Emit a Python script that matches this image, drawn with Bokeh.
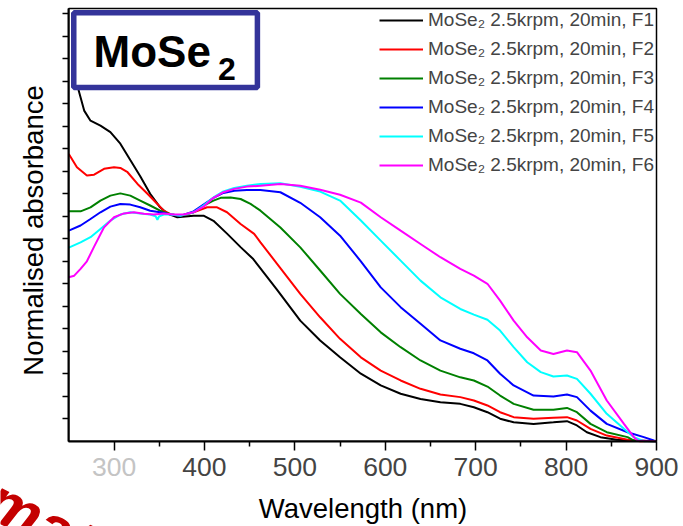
from bokeh.plotting import figure
from bokeh.models import Range1d, FixedTicker, Label, BoxAnnotation, LinearAxis
from bokeh.embed import file_html
from bokeh.resources import INLINE

FONT = "Liberation Sans"

# Wavelength (nm) and normalised absorbance for each fraction
f1_nm = [255, 261, 267, 274, 285, 296, 307, 318, 329, 340, 351, 359, 370, 388, 399, 410, 425, 440, 454,
         480, 506, 528, 550, 573, 595, 617, 639, 661, 683, 698, 713, 727, 742, 764, 786, 801, 812, 823, 838,
         856, 875, 897, 900]
f1_abs = [1.8, 1.558, 1.47, 1.425, 1.403, 1.374, 1.323, 1.25, 1.178, 1.10, 1.04, 1.012, 0.996, 1.003,
          1.003, 0.98, 0.923, 0.863, 0.81, 0.675, 0.536, 0.448, 0.373, 0.300, 0.248, 0.211, 0.188, 0.173,
          0.166, 0.151, 0.129, 0.100, 0.084, 0.077, 0.084, 0.089, 0.070, 0.040, 0.018, 0.006, 0.003, 0.0, 0.0]

f2_nm = [250, 259, 270, 278, 289, 300, 307, 315, 326, 337, 348, 355, 363, 374, 388, 403, 414, 425, 440, 455,
         462, 484, 506, 528, 550, 573, 595, 617, 639, 661, 683, 698, 713, 727, 742, 764, 786, 801, 812, 827,
         845, 868, 882, 900]
f2_abs = [1.277, 1.218, 1.181, 1.185, 1.211, 1.218, 1.215, 1.196, 1.144, 1.10, 1.055, 1.025, 1.008, 1.003,
          1.018, 1.04, 1.04, 1.018, 0.966, 0.922, 0.884, 0.77, 0.655, 0.551, 0.455, 0.373, 0.314, 0.270,
          0.233, 0.208, 0.196, 0.181, 0.159, 0.129, 0.107, 0.0996, 0.104, 0.107, 0.092, 0.055, 0.025, 0.006,
          0.0, 0.0]

f3_nm = [250, 263, 274, 285, 296, 307, 318, 329, 340, 351, 363, 374, 388, 399, 410, 418, 429, 440, 451, 462,
         484, 506, 528, 550, 573, 595, 617, 639, 661, 683, 698, 713, 727, 742, 764, 786, 801, 812, 827, 845,
         868, 875, 900]
f3_abs = [1.022, 1.022, 1.04, 1.07, 1.092, 1.102, 1.092, 1.07, 1.048, 1.025, 1.008, 1.002, 1.018, 1.048,
          1.07, 1.082, 1.084, 1.077, 1.055, 1.025, 0.95, 0.862, 0.759, 0.655, 0.566, 0.484, 0.418, 0.359,
          0.314, 0.284, 0.270, 0.243, 0.203, 0.166, 0.140, 0.140, 0.148, 0.129, 0.077, 0.040, 0.018, 0.003,
          0.0]

f4_nm = [250, 263, 274, 285, 296, 307, 318, 329, 340, 351, 363, 374, 388, 399, 410, 421, 433, 447, 462, 484,
         506, 528, 550, 573, 595, 617, 639, 661, 683, 698, 713, 727, 742, 764, 786, 801, 812, 827, 845, 868,
         886, 897, 900]
f4_abs = [0.936, 0.959, 0.988, 1.018, 1.043, 1.055, 1.052, 1.04, 1.025, 1.018, 1.008, 1.003, 1.022, 1.052,
          1.082, 1.104, 1.114, 1.117, 1.117, 1.107, 1.06, 0.996, 0.914, 0.80, 0.684, 0.596, 0.522, 0.448,
          0.411, 0.391, 0.359, 0.300, 0.248, 0.203, 0.199, 0.208, 0.196, 0.136, 0.077, 0.040, 0.018, 0.003,
          0.0]

f5_nm = [250, 263, 274, 285, 296, 307, 318, 329, 340, 346, 348, 350, 355, 363, 374, 388, 399, 410, 421, 433,
         447, 462, 484, 506, 528, 550, 573, 595, 617, 639, 661, 683, 698, 713, 727, 742, 757, 772, 786, 801,
         812, 827, 845, 864, 875, 886, 900]
f5_abs = [0.861, 0.884, 0.907, 0.944, 0.981, 1.008, 1.018, 1.013, 1.008, 1.0, 0.985, 1.0, 1.008, 1.008,
          1.003, 1.018, 1.048, 1.084, 1.111, 1.126, 1.136, 1.144, 1.147, 1.131, 1.110, 1.070, 0.981, 0.892,
          0.803, 0.714, 0.640, 0.588, 0.563, 0.540, 0.492, 0.418, 0.351, 0.307, 0.288, 0.292, 0.277, 0.211,
          0.122, 0.055, 0.018, 0.0, 0.0]

f6_nm = [250, 256, 263, 270, 278, 289, 300, 311, 322, 333, 344, 355, 366, 377, 388, 399, 410, 421, 433, 447,
         462, 484, 506, 528, 550, 573, 595, 617, 639, 661, 683, 698, 713, 727, 742, 757, 772, 786, 801, 812,
         827, 845, 864, 875, 879, 900]
f6_abs = [0.729, 0.736, 0.766, 0.80, 0.865, 0.951, 0.996, 1.013, 1.018, 1.011, 1.008, 1.013, 1.008, 1.008,
          1.018, 1.043, 1.082, 1.107, 1.122, 1.132, 1.136, 1.144, 1.136, 1.118, 1.096, 1.061, 0.996, 0.936,
          0.877, 0.818, 0.766, 0.736, 0.700, 0.625, 0.536, 0.462, 0.403, 0.388, 0.403, 0.396, 0.314, 0.181,
          0.077, 0.018, 0.003, 0.0]

series_labels = ["MoSe\u2082 2.5krpm, 20min, F%d" % i for i in range(1, 7)]
series_colors = ["#000000", "#ff0000", "#008000", "#0000ff", "#00ffff", "#ff00ff"]
series_x = [f1_nm, f2_nm, f3_nm, f4_nm, f5_nm, f6_nm]
series_y = [f1_abs, f2_abs, f3_abs, f4_abs, f5_abs, f6_abs]

x_major = [300, 400, 500, 600, 700, 800, 900]
x_minor = [350, 450, 550, 650, 750, 850]
y_ticks = [round(0.1 * k, 1) for k in range(1, 20)]

# data window shown by the axes
X_LO, X_HI = 250, 900
Y_LO, Y_HI = 0, 1.924

# the drawing area spans the whole canvas, the axes are pinned to the data window
p = figure(width=683, height=526, output_backend="svg", toolbar_location=None,
           x_range=Range1d(174.46, 929.86), y_range=Range1d(-0.3793, 1.9596),
           x_axis_location=None, y_axis_location=None, min_border=0)
p.grid.visible = False
p.outline_line_color = None
p.background_fill_color = "white"
p.border_fill_color = "white"

for xs, ys, c, lab in zip(series_x, series_y, series_colors, series_labels):
    p.line(xs, ys, line_color=c, line_width=2, legend_label=lab)

# outline of the data window
p.add_layout(BoxAnnotation(left=X_LO, right=X_HI, bottom=Y_LO, top=Y_HI,
                           fill_color=None, fill_alpha=0, line_color="black",
                           line_alpha=1.0, line_width=1.5))

# x axis
xa = LinearAxis(fixed_location=Y_LO, bounds=(X_LO, X_HI),
                ticker=FixedTicker(ticks=x_major, minor_ticks=x_minor))
xa.major_label_overrides = {300: " "}
xa.axis_line_width = 2
xa.major_tick_in = 0
xa.major_tick_out = 9
xa.minor_tick_in = 0
xa.minor_tick_out = 5
xa.major_tick_line_width = 1.5
xa.minor_tick_line_width = 1.5
xa.major_label_text_font = FONT
xa.major_label_text_font_size = "26.5px"
xa.major_label_standoff = 2
p.add_layout(xa, "below")

# y axis (ticks only)
ya = LinearAxis(fixed_location=X_LO, bounds=(Y_LO, Y_HI),
                ticker=FixedTicker(ticks=y_ticks, minor_ticks=[]))
ya.major_label_text_font_size = "0px"
ya.major_label_standoff = 0
ya.axis_line_width = 2
ya.major_tick_in = 0
ya.major_tick_out = 6
ya.major_tick_line_width = 1.5
p.add_layout(ya, "left")

# axis titles
p.add_layout(Label(x=575.4, y=-0.2997, text="Wavelength (nm)", text_align="center",
                   text_baseline="alphabetic", text_font=FONT, text_font_size="27.5px",
                   text_color="black"))
p.add_layout(Label(x=211.1, y=0.937, text="Normalised absorbance", text_align="center",
                   text_baseline="alphabetic", angle=1.5708, text_font=FONT,
                   text_font_size="27.5px", text_color="black"))

# faded 300 tick label
p.add_layout(Label(x=300, y=-0.1147, text="300", text_align="center", text_baseline="alphabetic",
                   text_font=FONT, text_font_size="26.5px", text_color="#c4c4c4"))

# red stamp lettering at the lower left
p.add_layout(Label(x=163.5, y=-0.240, text="mat", text_baseline="alphabetic", angle=-0.47,
                   text_font=FONT, text_font_size="62px", text_font_style="bold italic",
                   text_color="#c40000"))

# title box
p.add_layout(BoxAnnotation(left=255.5, right=458.6, bottom=1.573, top=1.905,
                           fill_color="white", fill_alpha=1.0,
                           line_color="#34349a", line_alpha=1.0, line_width=5.5))
p.add_layout(Label(x=277.4, y=1.733, text="MoSe", text_baseline="alphabetic",
                   text_font=FONT, text_font_size="44px", text_font_style="bold", text_color="black"))
p.add_layout(Label(x=415.0, y=1.657, text="2", text_baseline="alphabetic",
                   text_font=FONT, text_font_size="32px", text_font_style="bold", text_color="black"))

lg = p.legend[0]
lg.location = (378, 349)
lg.margin = 0
lg.padding = 1
lg.spacing = 7
lg.glyph_width = 44
lg.glyph_height = 18
lg.label_height = 18
lg.label_standoff = 5
lg.label_text_font = FONT
lg.label_text_font_size = "19px"
lg.border_line_alpha = 0
lg.background_fill_alpha = 0

open("out.html", "w").write(file_html(p, INLINE))
